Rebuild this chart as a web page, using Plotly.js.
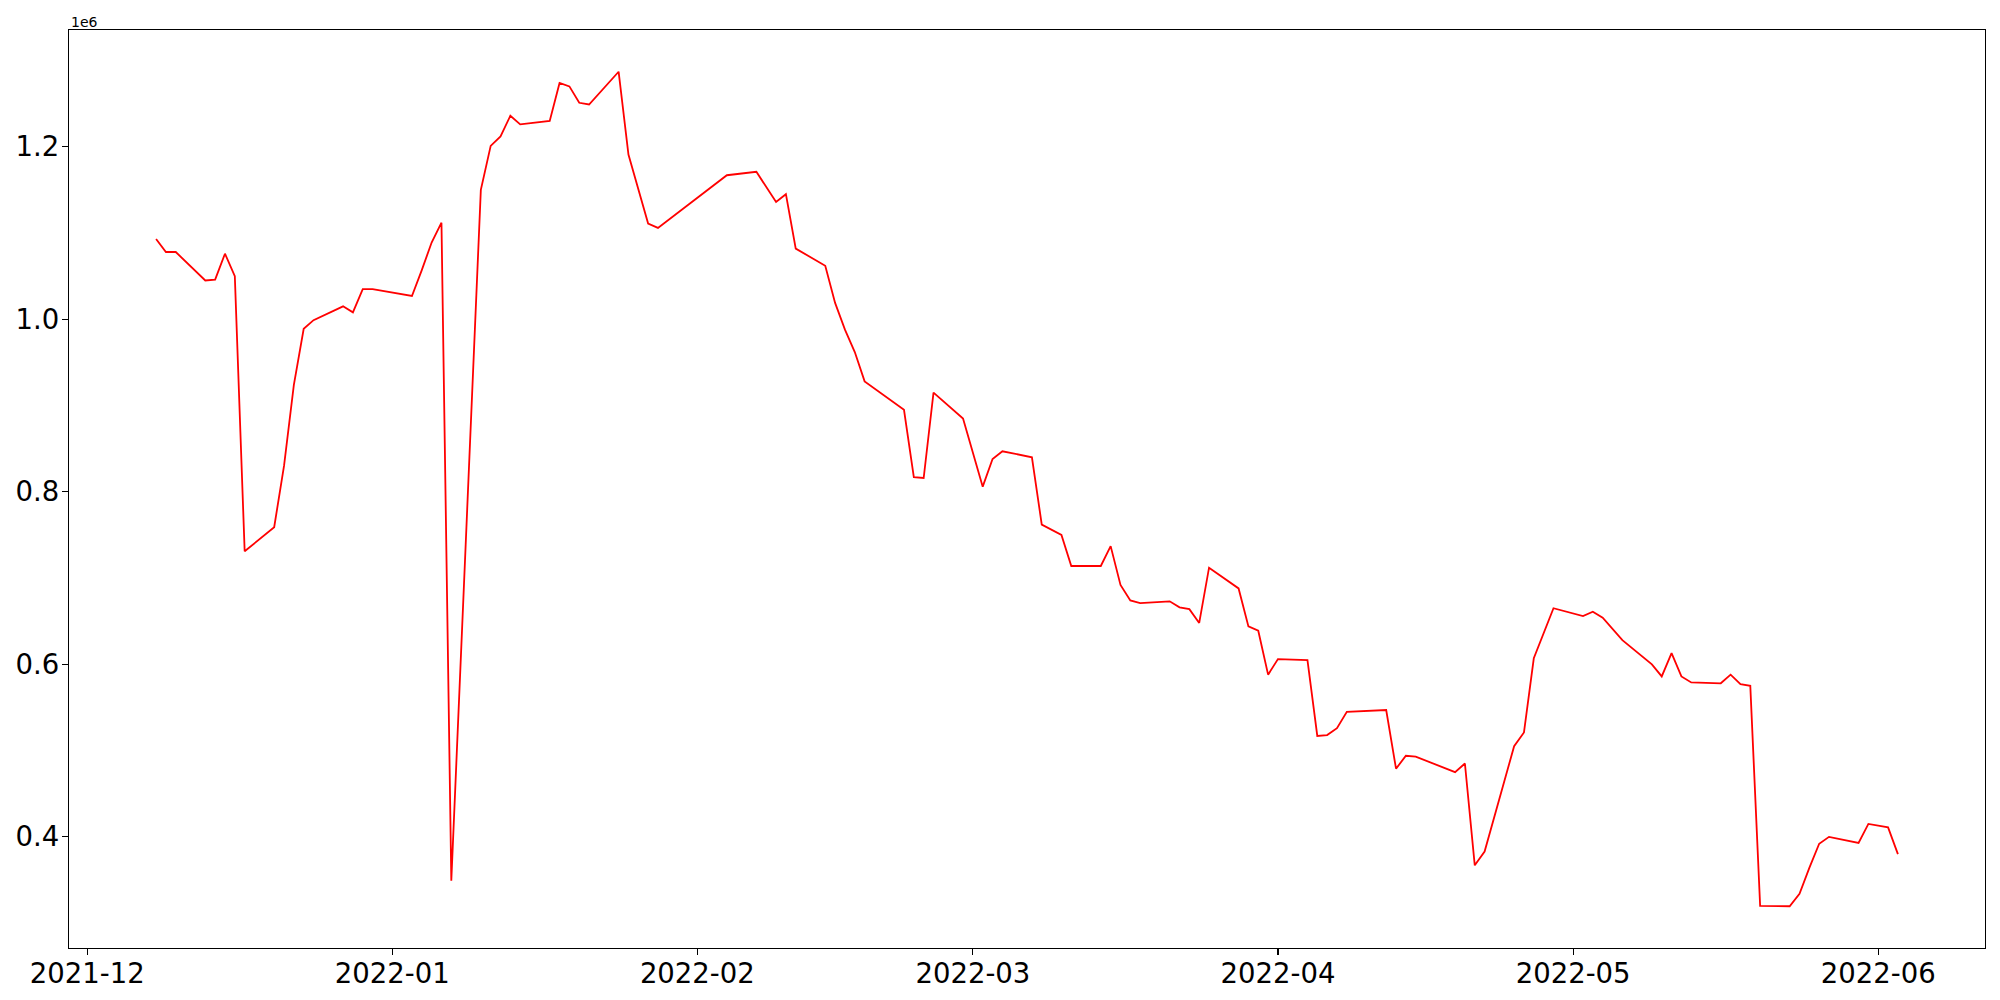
<!DOCTYPE html>
<html>
<head>
<meta charset="utf-8">
<script src="https://cdn.plot.ly/plotly-3.0.1.min.js"></script>
<style>
  html, body { margin: 0; padding: 0; background: #ffffff; }
  #chart { width: 2000px; height: 1000px; }
</style>
</head>
<body>
<div id="chart"></div>
<script>
// Dates of the series (trading days)
const dates = [
  '2021-12-08','2021-12-09','2021-12-10','2021-12-13','2021-12-14','2021-12-15','2021-12-16','2021-12-17',
  '2021-12-20','2021-12-21','2021-12-22','2021-12-23','2021-12-24','2021-12-27','2021-12-28','2021-12-29',
  '2021-12-30','2022-01-03','2022-01-04','2022-01-05','2022-01-06','2022-01-07','2022-01-10','2022-01-11',
  '2022-01-12','2022-01-13','2022-01-14','2022-01-17','2022-01-18','2022-01-19','2022-01-20','2022-01-21',
  '2022-01-24','2022-01-25','2022-01-27','2022-01-28','2022-02-04','2022-02-07','2022-02-09','2022-02-10',
  '2022-02-11','2022-02-14','2022-02-15','2022-02-16','2022-02-17','2022-02-18','2022-02-22','2022-02-23',
  '2022-02-24','2022-02-25','2022-02-28','2022-03-02','2022-03-03','2022-03-04','2022-03-07','2022-03-08',
  '2022-03-10','2022-03-11','2022-03-14','2022-03-15','2022-03-16','2022-03-17','2022-03-18','2022-03-21',
  '2022-03-22','2022-03-23','2022-03-24','2022-03-25','2022-03-28','2022-03-29','2022-03-30','2022-03-31',
  '2022-04-01','2022-04-04','2022-04-05','2022-04-06','2022-04-07','2022-04-08','2022-04-12','2022-04-13',
  '2022-04-14','2022-04-15','2022-04-19','2022-04-20','2022-04-21','2022-04-22','2022-04-25','2022-04-26',
  '2022-04-27','2022-04-28','2022-04-29','2022-05-02','2022-05-03','2022-05-04','2022-05-06','2022-05-09',
  '2022-05-10','2022-05-11','2022-05-12','2022-05-13','2022-05-16','2022-05-17','2022-05-18','2022-05-19',
  '2022-05-20','2022-05-23','2022-05-24','2022-05-25','2022-05-26','2022-05-27','2022-05-30','2022-05-31',
  '2022-06-02','2022-06-03'
];

// Values (units: 1e6)
const valuesM = [
  1.093, 1.078, 1.078, 1.045, 1.046, 1.076, 1.050, 0.731,
  0.759, 0.830, 0.924, 0.989, 0.999, 1.015, 1.008, 1.035,
  1.035, 1.027, 1.057, 1.089, 1.112, 0.349, 1.150, 1.201,
  1.212, 1.236, 1.226, 1.230, 1.274, 1.270, 1.251, 1.249,
  1.287, 1.191, 1.111, 1.106, 1.167, 1.171, 1.136, 1.145,
  1.082, 1.062, 1.019, 0.988, 0.962, 0.928, 0.895, 0.817,
  0.816, 0.915, 0.885, 0.806, 0.838, 0.847, 0.840, 0.762,
  0.750, 0.714, 0.714, 0.737, 0.692, 0.674, 0.671, 0.673,
  0.666, 0.664, 0.648, 0.712, 0.688, 0.644, 0.639, 0.588,
  0.606, 0.605, 0.517, 0.518, 0.526, 0.545, 0.547, 0.479,
  0.494, 0.493, 0.475, 0.485, 0.367, 0.383, 0.505, 0.521,
  0.607, 0.637, 0.665, 0.656, 0.661, 0.654, 0.628, 0.600,
  0.586, 0.613, 0.586, 0.579, 0.578, 0.588, 0.577, 0.575,
  0.320, 0.3195, 0.334, 0.364, 0.392, 0.400, 0.393, 0.415,
  0.411, 0.380
];
const values = valuesM.map(v => v * 1e6);

// Axis ticks
const yTickVals = [400000, 600000, 800000, 1000000, 1200000];
const yTickText = ['0.4', '0.6', '0.8', '1.0', '1.2'];
const xTickVals = ['2021-12-01','2022-01-01','2022-02-01','2022-03-01','2022-04-01','2022-05-01','2022-06-01'];
const xTickText = ['2021-12','2022-01','2022-02','2022-03','2022-04','2022-05','2022-06'];

// matplotlib-style 5% margins around the data
const t0 = Date.parse(dates[0] + 'T00:00:00Z');
const t1 = Date.parse(dates[dates.length - 1] + 'T00:00:00Z');
const xPad = (t1 - t0) * 0.05;
const fmt = t => new Date(t).toISOString().replace('T', ' ').slice(0, 19);
const yMin = Math.min(...values), yMax = Math.max(...values);
const yPad = (yMax - yMin) * 0.05;

const font = { family: 'DejaVu Sans', size: 27.5, color: '#000000' };

const trace = {
  type: 'scatter',
  mode: 'lines',
  x: dates,
  y: values,
  line: { color: '#ff0000', width: 1.8 },
  hoverinfo: 'x+y'
};

const axisCommon = {
  showline: true, mirror: true, linecolor: '#000000', linewidth: 1.2,
  showgrid: false, zeroline: false,
  ticks: 'outside', ticklen: 6, tickwidth: 1.2, tickcolor: '#000000',
  tickfont: font
};

const layout = {
  width: 2000, height: 1000,
  paper_bgcolor: '#ffffff', plot_bgcolor: '#ffffff',
  margin: { l: 69, r: 15, t: 30, b: 52 },
  showlegend: false,
  font: font,
  xaxis: Object.assign({}, axisCommon, {
    type: 'date',
    range: [fmt(t0 - xPad), fmt(t1 + xPad)],
    tickmode: 'array', tickvals: xTickVals, ticktext: xTickText,
    ticklabelstandoff: -5
  }),
  yaxis: Object.assign({}, axisCommon, {
    range: [yMin - yPad, yMax + yPad],
    tickmode: 'array', tickvals: yTickVals, ticktext: yTickText,
    ticklabelstandoff: -3
  }),
  annotations: [{
    text: '1e6', xref: 'paper', yref: 'paper', x: 0, y: 1,
    xanchor: 'left', yanchor: 'bottom', showarrow: false,
    font: { family: 'DejaVu Sans', size: 14, color: '#000000' }, yshift: -2
  }]
};

Plotly.newPlot('chart', [trace], layout, { displayModeBar: false, staticPlot: true });
</script>
</body>
</html>
